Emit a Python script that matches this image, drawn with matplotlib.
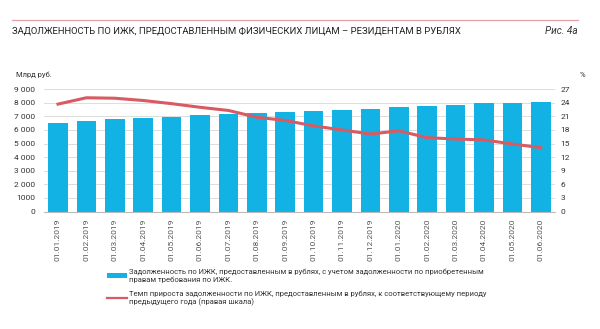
import matplotlib.pyplot as plt
from matplotlib.lines import Line2D
from matplotlib.patches import Patch

plt.rcParams["font.family"] = ["Liberation Sans Narrow", "Roboto", "DejaVu Sans"]

DATES = [
    "01.01.2019", "01.02.2019", "01.03.2019", "01.04.2019", "01.05.2019",
    "01.06.2019", "01.07.2019", "01.08.2019", "01.09.2019", "01.10.2019",
    "01.11.2019", "01.12.2019", "01.01.2020", "01.02.2020", "01.03.2020",
    "01.04.2020", "01.05.2020", "01.06.2020",
]

# задолженность, млрд руб.
DEBT = [
    6540, 6670, 6790, 6890, 6985, 7090, 7200, 7250, 7330,
    7405, 7455, 7575, 7700, 7750, 7845, 7970, 8015, 8090,
]

# темп прироста, % (правая шкала)
GROWTH = [
    23.7, 25.1, 25.0, 24.5, 23.8, 23.0, 22.3, 20.8, 20.1,
    18.9, 18.0, 17.1, 17.8, 16.3, 16.0, 15.8, 14.9, 14.1,
]

LEFT_TICKS = list(range(0, 9001, 1000))
LEFT_TICK_LABELS = ["0", "1000", "2 000", "3 000", "4 000", "5 000",
                    "6 000", "7 000", "8 000", "9 000"]
RIGHT_TICKS = list(range(0, 28, 3))

BAR_COLOR = "#12B2E4"
LINE_COLOR = "#D85A62"
GRID_COLOR = "#DDDDDD"
TEXT_COLOR = "#333333"

LEGEND_LABELS = [
    "Задолженность по ИЖК, предоставленным в рублях, с учетом задолженности по приобретенным\n"
    "правам требования по ИЖК.",
    "Темп прироста задолженности по ИЖК, предоставленным в рублях, к соответствующему периоду\n"
    "предыдущего года (правая шкала)",
]

fig = plt.figure(figsize=(6.0, 3.29), dpi=100)
ax = fig.add_axes([0.073, 0.357, 0.852, 0.372])
x = list(range(len(DATES)))

ax.bar(x, DEBT, width=0.69, color=BAR_COLOR, zorder=2)
ax.set_xlim(-0.5, len(DATES) - 0.5)
ax.set_ylim(0, 9000)
ax.set_yticks(LEFT_TICKS)
ax.set_yticklabels(LEFT_TICK_LABELS)
ax.grid(axis="y", color=GRID_COLOR, linewidth=0.7, zorder=0)
ax.set_xticks(x)
ax.set_xticklabels(DATES, rotation=90)
ax.tick_params(axis="y", length=0, labelsize=6, labelcolor=TEXT_COLOR, pad=6)
ax.tick_params(axis="x", length=0, labelsize=6, labelcolor="#555555", pad=5)
for s in ["top", "right", "left"]:
    ax.spines[s].set_visible(False)
ax.spines["bottom"].set_color("#BBBBBB")
ax.spines["bottom"].set_linewidth(0.8)

ax2 = ax.twinx()
ax2.plot(x, GROWTH, color=LINE_COLOR, linewidth=2.2, solid_joinstyle="round", zorder=3)
ax2.set_ylim(0, 27)
ax2.set_yticks(RIGHT_TICKS)
ax2.tick_params(axis="y", length=0, labelsize=6, labelcolor=TEXT_COLOR, pad=4)
for s in ["top", "right", "left", "bottom"]:
    ax2.spines[s].set_visible(False)

# шапка
fig.add_artist(Line2D([0.02, 0.963], [0.939, 0.939], color="#E3A3A6", linewidth=0.9))
fig.text(0.02, 0.905, "ЗАДОЛЖЕННОСТЬ ПО ИЖК, ПРЕДОСТАВЛЕННЫМ ФИЗИЧЕСКИХ ЛИЦАМ – РЕЗИДЕНТАМ В РУБЛЯХ",
         fontsize=6.8, color="#222222", va="center", ha="left")
fig.text(0.963, 0.905, "Рис. 4а", fontsize=7.2, color="#333333", style="italic", va="center", ha="right")
fig.text(0.026, 0.772, "Млрд руб.", fontsize=5.5, color=TEXT_COLOR, va="center")
fig.text(0.975, 0.772, "%", fontsize=5.5, color=TEXT_COLOR, va="center", ha="right")

handles = [
    Patch(facecolor=BAR_COLOR, edgecolor="none"),
    Line2D([0], [0], color=LINE_COLOR, linewidth=1.6),
]
fig.legend(handles, LEGEND_LABELS, loc="upper left", bbox_to_anchor=(0.172, 0.195),
           frameon=False, fontsize=5.5, labelcolor="#333333", handlelength=2.6,
           handletextpad=0.3, labelspacing=1.0, borderpad=0)

fig.savefig("out.png", dpi=100)
